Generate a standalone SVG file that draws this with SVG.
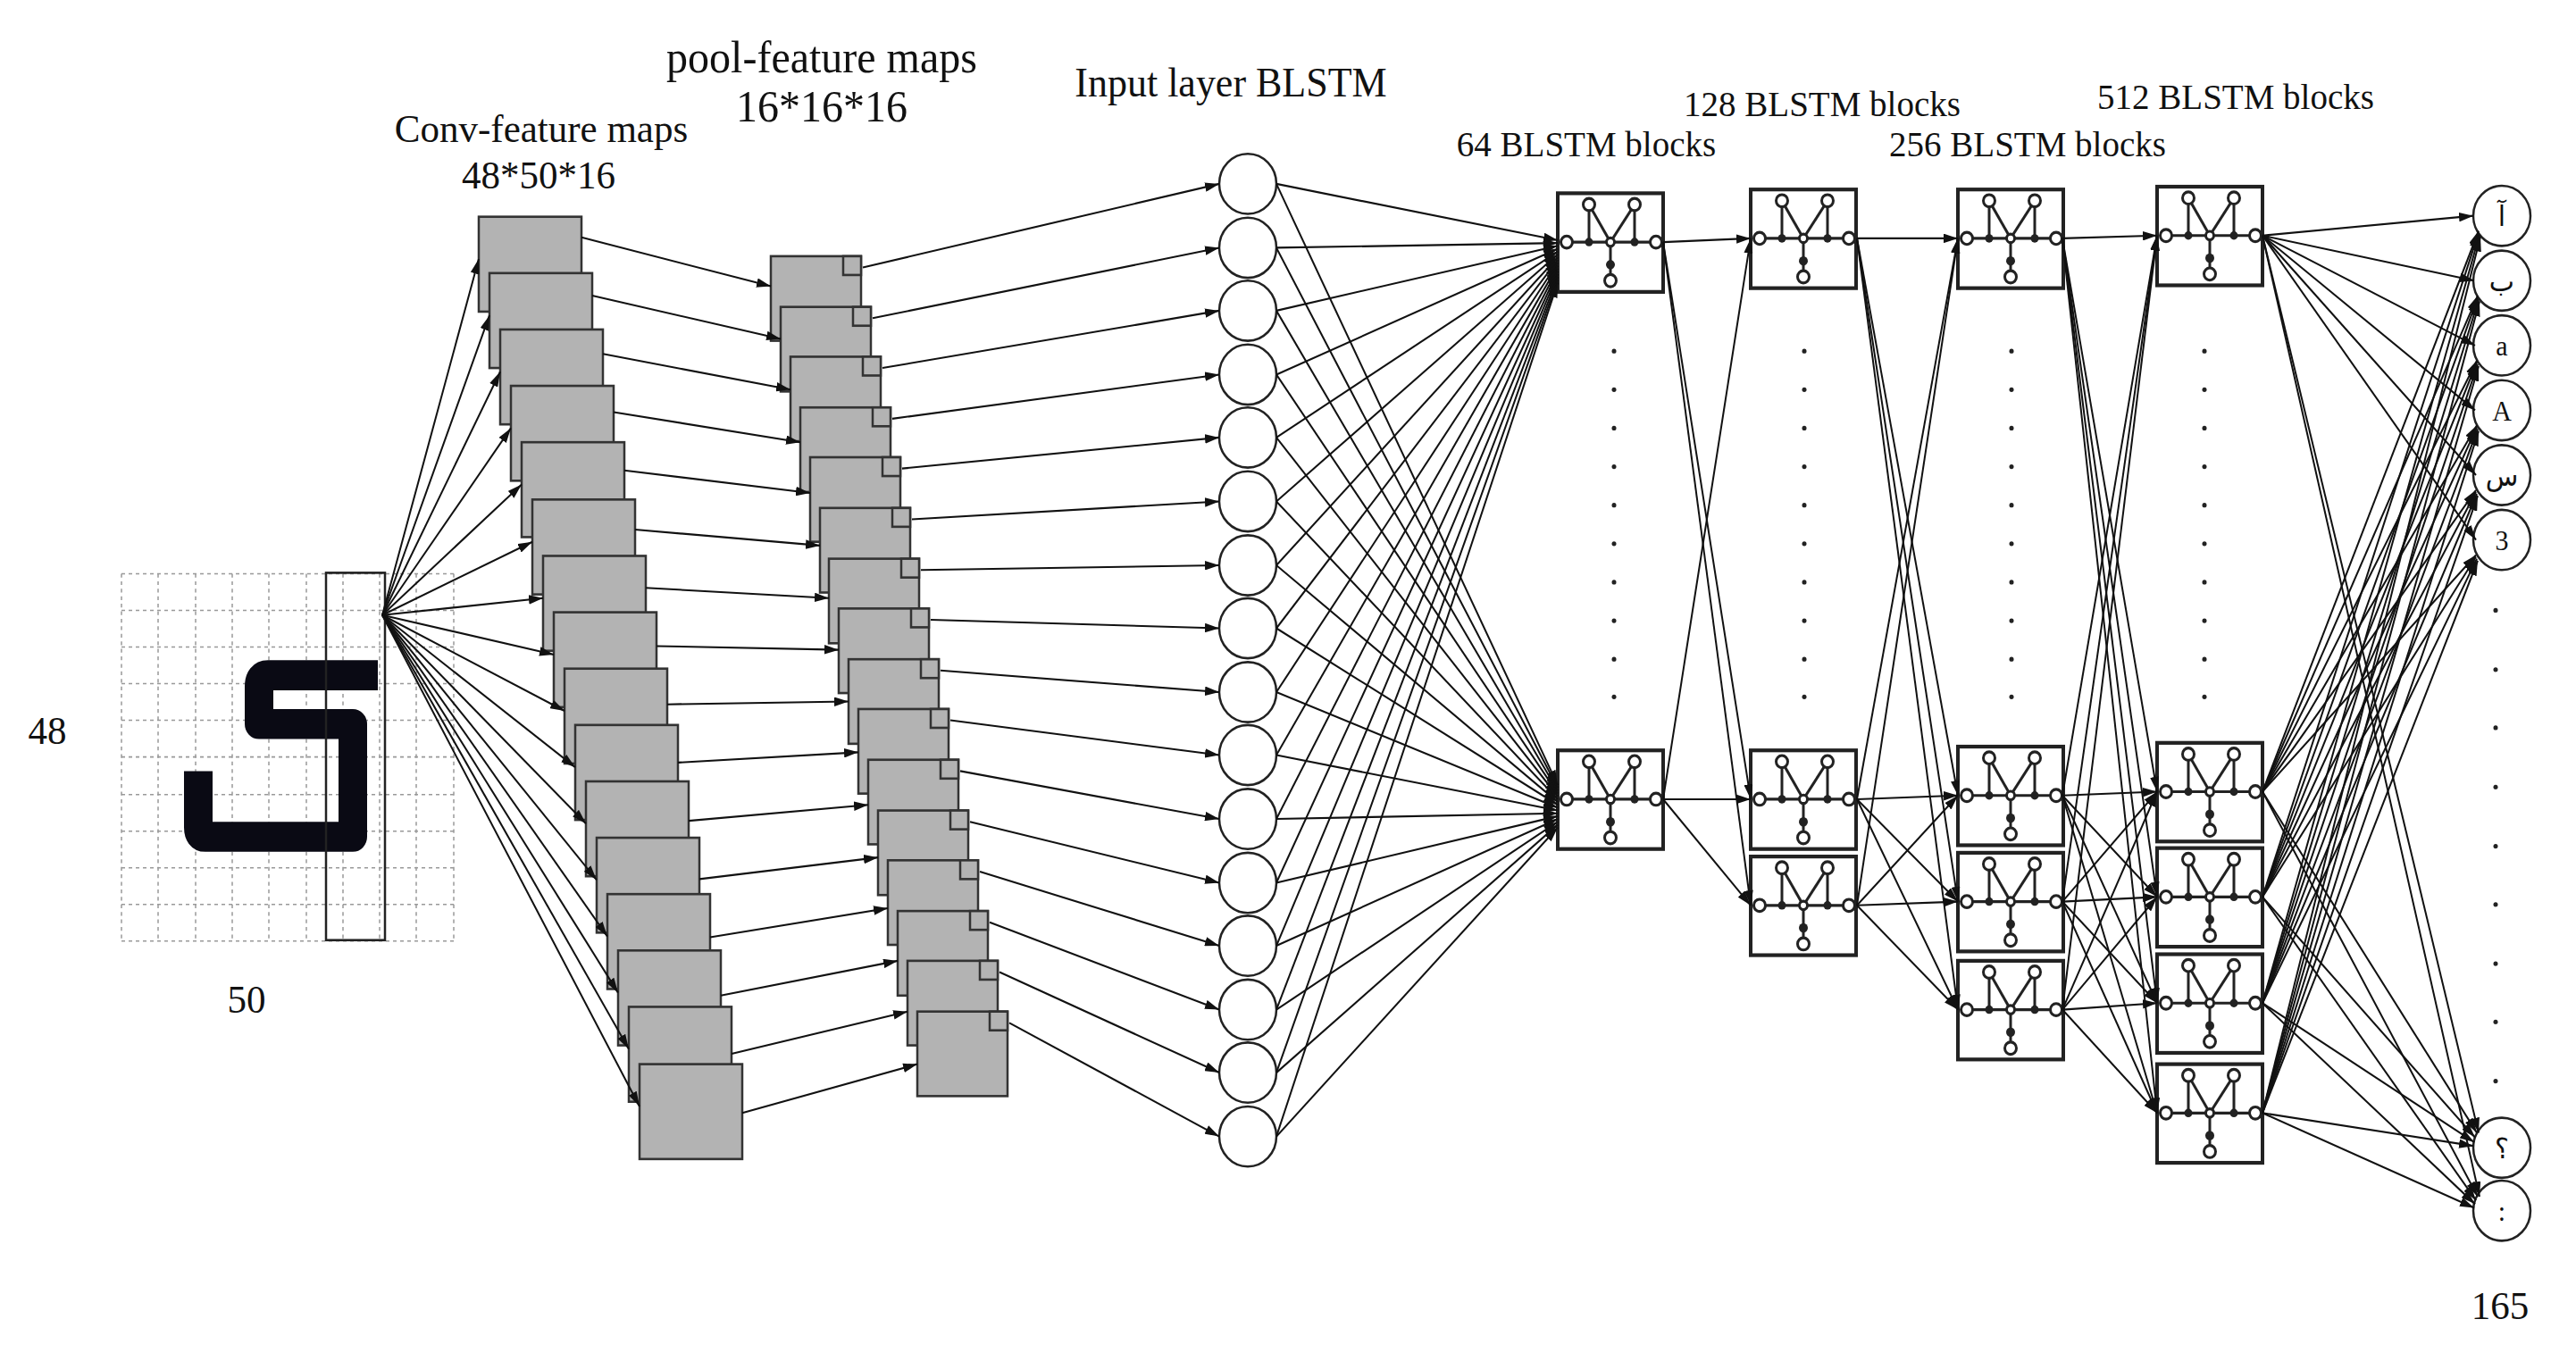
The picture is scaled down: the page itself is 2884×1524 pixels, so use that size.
<svg xmlns="http://www.w3.org/2000/svg" xmlns:xlink="http://www.w3.org/1999/xlink" width="2884" height="1524" viewBox="0 0 2884 1524">
<style>
text{font-family:"Liberation Serif","DejaVu Serif",serif;fill:#111;text-anchor:middle}
.lbl{font-size:43px}
.big{font-size:48px}
.blab{font-size:39px}
.inl{font-size:44px}
.out{font-size:30px;font-family:"Liberation Serif","DejaVu Sans",serif}
.c line{stroke:#111;stroke-width:2;marker-end:url(#ah)}
.conv{fill:#b3b3b3;stroke:#333;stroke-width:2.5}
.pool{fill:#b3b3b3;stroke:#333;stroke-width:2.5}
.nd{fill:#fff;stroke:#222;stroke-width:2.5}
.grid line{stroke:#999;stroke-width:1.5;stroke-dasharray:4,4}
.dot{fill:#222}
</style>
<defs>
<marker id="ah" markerUnits="userSpaceOnUse" markerWidth="16" markerHeight="10" refX="16" refY="5" orient="auto"><path d="M0,0 L16,5 L0,10 z" fill="#111"/></marker>
<g id="blk">
<rect x="0" y="0" width="118" height="105" fill="#fff" stroke="#222" stroke-width="4"/>
<g stroke="#222" stroke-width="3" fill="none">
<line x1="10" y1="52" x2="110" y2="52"/>
<line x1="35" y1="12" x2="35" y2="52"/>
<line x1="86" y1="12" x2="86" y2="52"/>
<line x1="35" y1="12" x2="59" y2="52"/>
<line x1="86" y1="12" x2="59" y2="52"/>
<line x1="59" y1="52" x2="59" y2="93"/>
</g>
<g fill="#222"><circle cx="35" cy="52" r="4.5"/><circle cx="86" cy="52" r="4.5"/><circle cx="59" cy="76" r="5"/></g>
<g fill="#fff" stroke="#222" stroke-width="3">
<circle cx="10" cy="52" r="6.5"/><circle cx="110" cy="52" r="6.5"/><circle cx="35" cy="12" r="6.5"/><circle cx="86" cy="12" r="6.5"/><circle cx="59" cy="93" r="6.5"/><circle cx="59" cy="52" r="4.5"/>
</g>
</g>
</defs>
<rect width="2884" height="1524" fill="#fff"/>
<g transform="matrix(1,0,0,1.052,0,6)">

<g id="input-image">
<g class="grid">
<line x1="136" y1="605" x2="136" y2="996"/><line x1="177" y1="605" x2="177" y2="996"/><line x1="219" y1="605" x2="219" y2="996"/><line x1="260" y1="605" x2="260" y2="996"/><line x1="301" y1="605" x2="301" y2="996"/><line x1="343" y1="605" x2="343" y2="996"/><line x1="384" y1="605" x2="384" y2="996"/><line x1="425" y1="605" x2="425" y2="996"/><line x1="466" y1="605" x2="466" y2="996"/><line x1="508" y1="605" x2="508" y2="996"/>
<line x1="136" y1="605" x2="508" y2="605"/><line x1="136" y1="644" x2="508" y2="644"/><line x1="136" y1="683" x2="508" y2="683"/><line x1="136" y1="722" x2="508" y2="722"/><line x1="136" y1="761" x2="508" y2="761"/><line x1="136" y1="800" x2="508" y2="800"/><line x1="136" y1="840" x2="508" y2="840"/><line x1="136" y1="879" x2="508" y2="879"/><line x1="136" y1="918" x2="508" y2="918"/><line x1="136" y1="957" x2="508" y2="957"/><line x1="136" y1="996" x2="508" y2="996"/>
</g>
<path d="M423,713 L300,713 Q290,713 290,725 L290,765 L395,765 L395,885 L230,885 Q222,885 222,875 L222,815" fill="none" stroke="#0a0a14" stroke-width="32" stroke-linejoin="round"/>
<rect x="365" y="604" width="66" height="391" fill="none" stroke="#222" stroke-width="2.5"/>
<text class="lbl" x="53" y="786">48</text>
<text class="lbl" x="276" y="1072">50</text>
</g>

<g id="labels">
<text class="lbl" x="606" y="145">Conv-feature maps</text>
<text class="lbl" x="603" y="195">48*50*16</text>
<text class="big" x="920" y="71">pool-feature maps</text>
<text class="big" x="920" y="124">16*16*16</text>
<text class="inl" x="1378" y="97">Input layer BLSTM</text>
<text class="blab" x="1776" y="161">64 BLSTM blocks</text>
<text class="blab" x="2040" y="118">128 BLSTM blocks</text>
<text class="blab" x="2270" y="161">256 BLSTM blocks</text>
<text class="blab" x="2503" y="110">512 BLSTM blocks</text>
<text class="lbl" x="2799" y="1398">165</text>
</g>

<g id="conv-maps">
<rect class="conv" x="536" y="225" width="115" height="101"/><rect class="conv" x="548" y="285" width="115" height="101"/><rect class="conv" x="560" y="345" width="115" height="101"/><rect class="conv" x="572" y="405" width="115" height="101"/><rect class="conv" x="584" y="465" width="115" height="101"/><rect class="conv" x="596" y="526" width="115" height="101"/><rect class="conv" x="608" y="586" width="115" height="101"/><rect class="conv" x="620" y="646" width="115" height="101"/><rect class="conv" x="632" y="706" width="115" height="101"/><rect class="conv" x="644" y="766" width="115" height="101"/><rect class="conv" x="656" y="826" width="115" height="101"/><rect class="conv" x="668" y="886" width="115" height="101"/><rect class="conv" x="680" y="946" width="115" height="101"/><rect class="conv" x="692" y="1006" width="115" height="101"/><rect class="conv" x="704" y="1066" width="115" height="101"/><rect class="conv" x="716" y="1127" width="115" height="101"/>
</g>

<g id="pool-maps">
<g><rect class="pool" x="863" y="267" width="101" height="90"/><rect class="pool" x="944" y="267" width="20" height="20"/></g>
<g><rect class="pool" x="874" y="321" width="101" height="90"/><rect class="pool" x="955" y="321" width="20" height="20"/></g>
<g><rect class="pool" x="885" y="374" width="101" height="90"/><rect class="pool" x="966" y="374" width="20" height="20"/></g>
<g><rect class="pool" x="896" y="428" width="101" height="90"/><rect class="pool" x="977" y="428" width="20" height="20"/></g>
<g><rect class="pool" x="907" y="481" width="101" height="90"/><rect class="pool" x="988" y="481" width="20" height="20"/></g>
<g><rect class="pool" x="918" y="535" width="101" height="90"/><rect class="pool" x="999" y="535" width="20" height="20"/></g>
<g><rect class="pool" x="928" y="589" width="101" height="90"/><rect class="pool" x="1009" y="589" width="20" height="20"/></g>
<g><rect class="pool" x="939" y="642" width="101" height="90"/><rect class="pool" x="1020" y="642" width="20" height="20"/></g>
<g><rect class="pool" x="950" y="696" width="101" height="90"/><rect class="pool" x="1031" y="696" width="20" height="20"/></g>
<g><rect class="pool" x="961" y="749" width="101" height="90"/><rect class="pool" x="1042" y="749" width="20" height="20"/></g>
<g><rect class="pool" x="972" y="803" width="101" height="90"/><rect class="pool" x="1053" y="803" width="20" height="20"/></g>
<g><rect class="pool" x="983" y="857" width="101" height="90"/><rect class="pool" x="1064" y="857" width="20" height="20"/></g>
<g><rect class="pool" x="994" y="910" width="101" height="90"/><rect class="pool" x="1075" y="910" width="20" height="20"/></g>
<g><rect class="pool" x="1005" y="964" width="101" height="90"/><rect class="pool" x="1086" y="964" width="20" height="20"/></g>
<g><rect class="pool" x="1016" y="1017" width="101" height="90"/><rect class="pool" x="1097" y="1017" width="20" height="20"/></g>
<g><rect class="pool" x="1027" y="1071" width="101" height="90"/><rect class="pool" x="1108" y="1071" width="20" height="20"/></g>
</g>

<g id="input-layer">
<circle class="nd" cx="1397" cy="190" r="32"/><circle class="nd" cx="1397" cy="258" r="32"/><circle class="nd" cx="1397" cy="325" r="32"/><circle class="nd" cx="1397" cy="393" r="32"/><circle class="nd" cx="1397" cy="460" r="32"/><circle class="nd" cx="1397" cy="528" r="32"/><circle class="nd" cx="1397" cy="596" r="32"/><circle class="nd" cx="1397" cy="663" r="32"/><circle class="nd" cx="1397" cy="731" r="32"/><circle class="nd" cx="1397" cy="798" r="32"/><circle class="nd" cx="1397" cy="866" r="32"/><circle class="nd" cx="1397" cy="934" r="32"/><circle class="nd" cx="1397" cy="1001" r="32"/><circle class="nd" cx="1397" cy="1069" r="32"/><circle class="nd" cx="1397" cy="1136" r="32"/><circle class="nd" cx="1397" cy="1204" r="32"/>
</g>

<g id="blstm-64"><use xlink:href="#blk" href="#blk" x="1744" y="200"/><use xlink:href="#blk" href="#blk" x="1744" y="793"/></g>
<g id="blstm-128"><use xlink:href="#blk" href="#blk" x="1960" y="196"/><use xlink:href="#blk" href="#blk" x="1960" y="793"/><use xlink:href="#blk" href="#blk" x="1960" y="906"/></g>
<g id="blstm-256"><use xlink:href="#blk" href="#blk" x="2192" y="196"/><use xlink:href="#blk" href="#blk" x="2192" y="789"/><use xlink:href="#blk" href="#blk" x="2192" y="902"/><use xlink:href="#blk" href="#blk" x="2192" y="1017"/></g>
<g id="blstm-512"><use xlink:href="#blk" href="#blk" x="2415" y="193"/><use xlink:href="#blk" href="#blk" x="2415" y="785"/><use xlink:href="#blk" href="#blk" x="2415" y="897"/><use xlink:href="#blk" href="#blk" x="2415" y="1010"/><use xlink:href="#blk" href="#blk" x="2415" y="1127"/></g>

<g id="ellipsis-dots">
<g class="dot">
<circle cx="1807" cy="368" r="2.5"/><circle cx="1807" cy="409" r="2.5"/><circle cx="1807" cy="450" r="2.5"/><circle cx="1807" cy="491" r="2.5"/><circle cx="1807" cy="532" r="2.5"/><circle cx="1807" cy="573" r="2.5"/><circle cx="1807" cy="614" r="2.5"/><circle cx="1807" cy="655" r="2.5"/><circle cx="1807" cy="696" r="2.5"/><circle cx="1807" cy="736" r="2.5"/>
<circle cx="2020" cy="368" r="2.5"/><circle cx="2020" cy="409" r="2.5"/><circle cx="2020" cy="450" r="2.5"/><circle cx="2020" cy="491" r="2.5"/><circle cx="2020" cy="532" r="2.5"/><circle cx="2020" cy="573" r="2.5"/><circle cx="2020" cy="614" r="2.5"/><circle cx="2020" cy="655" r="2.5"/><circle cx="2020" cy="696" r="2.5"/><circle cx="2020" cy="736" r="2.5"/>
<circle cx="2252" cy="368" r="2.5"/><circle cx="2252" cy="409" r="2.5"/><circle cx="2252" cy="450" r="2.5"/><circle cx="2252" cy="491" r="2.5"/><circle cx="2252" cy="532" r="2.5"/><circle cx="2252" cy="573" r="2.5"/><circle cx="2252" cy="614" r="2.5"/><circle cx="2252" cy="655" r="2.5"/><circle cx="2252" cy="696" r="2.5"/><circle cx="2252" cy="736" r="2.5"/>
<circle cx="2468" cy="368" r="2.5"/><circle cx="2468" cy="409" r="2.5"/><circle cx="2468" cy="450" r="2.5"/><circle cx="2468" cy="491" r="2.5"/><circle cx="2468" cy="532" r="2.5"/><circle cx="2468" cy="573" r="2.5"/><circle cx="2468" cy="614" r="2.5"/><circle cx="2468" cy="655" r="2.5"/><circle cx="2468" cy="696" r="2.5"/><circle cx="2468" cy="736" r="2.5"/>
<circle cx="2794" cy="644" r="2.5"/><circle cx="2794" cy="707" r="2.5"/><circle cx="2794" cy="769" r="2.5"/><circle cx="2794" cy="832" r="2.5"/><circle cx="2794" cy="895" r="2.5"/><circle cx="2794" cy="957" r="2.5"/><circle cx="2794" cy="1020" r="2.5"/><circle cx="2794" cy="1082" r="2.5"/><circle cx="2794" cy="1145" r="2.5"/>
</g>
</g>

<g id="output-layer">
<g id="o1"><circle class="nd" cx="2801" cy="224" r="32"/><text class="out" x="2801" y="235">آ</text></g>
<g id="o2"><circle class="nd" cx="2801" cy="293" r="32"/><text class="out" x="2801" y="304">ب</text></g>
<g id="o3"><circle class="nd" cx="2801" cy="362" r="32"/><text class="out" x="2801" y="373">a</text></g>
<g id="o4"><circle class="nd" cx="2801" cy="431" r="32"/><text class="out" x="2801" y="442">A</text></g>
<g id="o5"><circle class="nd" cx="2801" cy="500" r="32"/><text class="out" x="2801" y="511">س</text></g>
<g id="o6"><circle class="nd" cx="2801" cy="569" r="32"/><text class="out" x="2801" y="580">3</text></g>
<g id="o7"><circle class="nd" cx="2801" cy="1216" r="32"/><text class="out" x="2801" y="1227">؟</text></g>
<g id="o8"><circle class="nd" cx="2801" cy="1283" r="32"/><text class="out" x="2801" y="1294">:</text></g>
</g>

<g id="connectors" class="c">
<line x1="428" y1="649" x2="536" y2="270"/><line x1="428" y1="649" x2="548" y2="330"/><line x1="428" y1="649" x2="560" y2="390"/><line x1="428" y1="649" x2="572" y2="450"/><line x1="428" y1="649" x2="584" y2="510"/><line x1="428" y1="649" x2="596" y2="571"/><line x1="428" y1="649" x2="608" y2="631"/><line x1="428" y1="649" x2="620" y2="691"/><line x1="428" y1="649" x2="632" y2="751"/><line x1="428" y1="649" x2="644" y2="811"/><line x1="428" y1="649" x2="656" y2="871"/><line x1="428" y1="649" x2="668" y2="931"/><line x1="428" y1="649" x2="680" y2="991"/><line x1="428" y1="649" x2="692" y2="1051"/><line x1="428" y1="649" x2="704" y2="1111"/><line x1="428" y1="649" x2="716" y2="1172"/>

<line x1="651" y1="247" x2="863" y2="299"/><line x1="663" y1="309" x2="874" y2="355"/><line x1="675" y1="371" x2="885" y2="409"/><line x1="687" y1="433" x2="896" y2="465"/><line x1="699" y1="495" x2="907" y2="519"/><line x1="711" y1="558" x2="918" y2="575"/><line x1="723" y1="620" x2="928" y2="631"/><line x1="735" y1="682" x2="939" y2="686"/><line x1="747" y1="744" x2="950" y2="741"/><line x1="759" y1="806" x2="961" y2="795"/><line x1="771" y1="868" x2="972" y2="851"/><line x1="783" y1="930" x2="983" y2="907"/><line x1="795" y1="992" x2="994" y2="961"/><line x1="807" y1="1054" x2="1005" y2="1017"/><line x1="819" y1="1116" x2="1016" y2="1071"/><line x1="831" y1="1179" x2="1027" y2="1127"/>

<line x1="966" y1="279" x2="1365" y2="190"/><line x1="977" y1="333" x2="1365" y2="258"/><line x1="988" y1="386" x2="1365" y2="325"/><line x1="999" y1="440" x2="1365" y2="393"/><line x1="1010" y1="493" x2="1365" y2="460"/><line x1="1021" y1="547" x2="1365" y2="528"/><line x1="1031" y1="601" x2="1365" y2="596"/><line x1="1042" y1="654" x2="1365" y2="663"/><line x1="1053" y1="708" x2="1365" y2="731"/><line x1="1064" y1="761" x2="1365" y2="798"/><line x1="1075" y1="815" x2="1365" y2="866"/><line x1="1086" y1="869" x2="1365" y2="934"/><line x1="1097" y1="922" x2="1365" y2="1001"/><line x1="1108" y1="976" x2="1365" y2="1069"/><line x1="1119" y1="1029" x2="1365" y2="1136"/><line x1="1130" y1="1083" x2="1365" y2="1204"/>

<line x1="1429" y1="190" x2="1744" y2="250"/><line x1="1429" y1="190" x2="1744" y2="830"/>
<line x1="1429" y1="258" x2="1744" y2="253"/><line x1="1429" y1="258" x2="1744" y2="833"/>
<line x1="1429" y1="325" x2="1744" y2="256"/><line x1="1429" y1="325" x2="1744" y2="836"/>
<line x1="1429" y1="393" x2="1744" y2="259"/><line x1="1429" y1="393" x2="1744" y2="839"/>
<line x1="1429" y1="460" x2="1744" y2="262"/><line x1="1429" y1="460" x2="1744" y2="842"/>
<line x1="1429" y1="528" x2="1744" y2="265"/><line x1="1429" y1="528" x2="1744" y2="845"/>
<line x1="1429" y1="596" x2="1744" y2="268"/><line x1="1429" y1="596" x2="1744" y2="848"/>
<line x1="1429" y1="663" x2="1744" y2="271"/><line x1="1429" y1="663" x2="1744" y2="851"/>
<line x1="1429" y1="731" x2="1744" y2="274"/><line x1="1429" y1="731" x2="1744" y2="854"/>
<line x1="1429" y1="798" x2="1744" y2="277"/><line x1="1429" y1="798" x2="1744" y2="857"/>
<line x1="1429" y1="866" x2="1744" y2="280"/><line x1="1429" y1="866" x2="1744" y2="860"/>
<line x1="1429" y1="934" x2="1744" y2="283"/><line x1="1429" y1="934" x2="1744" y2="863"/>
<line x1="1429" y1="1001" x2="1744" y2="286"/><line x1="1429" y1="1001" x2="1744" y2="866"/>
<line x1="1429" y1="1069" x2="1744" y2="289"/><line x1="1429" y1="1069" x2="1744" y2="869"/>
<line x1="1429" y1="1136" x2="1744" y2="292"/><line x1="1429" y1="1136" x2="1744" y2="872"/>
<line x1="1429" y1="1204" x2="1744" y2="295"/><line x1="1429" y1="1204" x2="1744" y2="875"/>

<line x1="1862" y1="252" x2="1960" y2="248"/><line x1="1862" y1="252" x2="1960" y2="845"/><line x1="1862" y1="252" x2="1960" y2="958"/>
<line x1="1862" y1="845" x2="1960" y2="248"/><line x1="1862" y1="845" x2="1960" y2="845"/><line x1="1862" y1="845" x2="1960" y2="958"/>

<line x1="2079" y1="248" x2="2192" y2="248"/><line x1="2079" y1="248" x2="2192" y2="841"/><line x1="2079" y1="248" x2="2192" y2="954"/><line x1="2079" y1="248" x2="2192" y2="1069"/>
<line x1="2079" y1="845" x2="2192" y2="248"/><line x1="2079" y1="845" x2="2192" y2="841"/><line x1="2079" y1="845" x2="2192" y2="954"/><line x1="2079" y1="845" x2="2192" y2="1069"/>
<line x1="2079" y1="958" x2="2192" y2="248"/><line x1="2079" y1="958" x2="2192" y2="841"/><line x1="2079" y1="958" x2="2192" y2="954"/><line x1="2079" y1="958" x2="2192" y2="1069"/>

<line x1="2309" y1="248" x2="2415" y2="245"/><line x1="2309" y1="248" x2="2415" y2="837"/><line x1="2309" y1="248" x2="2415" y2="949"/><line x1="2309" y1="248" x2="2415" y2="1062"/><line x1="2309" y1="248" x2="2415" y2="1179"/>
<line x1="2309" y1="841" x2="2415" y2="245"/><line x1="2309" y1="841" x2="2415" y2="837"/><line x1="2309" y1="841" x2="2415" y2="949"/><line x1="2309" y1="841" x2="2415" y2="1062"/><line x1="2309" y1="841" x2="2415" y2="1179"/>
<line x1="2309" y1="954" x2="2415" y2="245"/><line x1="2309" y1="954" x2="2415" y2="837"/><line x1="2309" y1="954" x2="2415" y2="949"/><line x1="2309" y1="954" x2="2415" y2="1062"/><line x1="2309" y1="954" x2="2415" y2="1179"/>
<line x1="2309" y1="1069" x2="2415" y2="245"/><line x1="2309" y1="1069" x2="2415" y2="837"/><line x1="2309" y1="1069" x2="2415" y2="949"/><line x1="2309" y1="1069" x2="2415" y2="1062"/><line x1="2309" y1="1069" x2="2415" y2="1179"/>

<line x1="2533" y1="245" x2="2769" y2="224"/><line x1="2533" y1="245" x2="2770" y2="293"/><line x1="2533" y1="245" x2="2771" y2="362"/><line x1="2533" y1="245" x2="2771" y2="431"/><line x1="2533" y1="245" x2="2772" y2="500"/><line x1="2533" y1="245" x2="2772" y2="569"/><line x1="2533" y1="245" x2="2775" y2="1200"/><line x1="2533" y1="245" x2="2776" y2="1268"/>
<line x1="2533" y1="837" x2="2775" y2="240"/><line x1="2533" y1="837" x2="2774" y2="309"/><line x1="2533" y1="837" x2="2773" y2="378"/><line x1="2533" y1="837" x2="2773" y2="447"/><line x1="2533" y1="837" x2="2772" y2="516"/><line x1="2533" y1="837" x2="2772" y2="585"/><line x1="2533" y1="837" x2="2773" y2="1200"/><line x1="2533" y1="837" x2="2774" y2="1268"/>
<line x1="2533" y1="949" x2="2775" y2="242"/><line x1="2533" y1="949" x2="2774" y2="311"/><line x1="2533" y1="949" x2="2773" y2="380"/><line x1="2533" y1="949" x2="2773" y2="449"/><line x1="2533" y1="949" x2="2772" y2="518"/><line x1="2533" y1="949" x2="2772" y2="587"/><line x1="2533" y1="949" x2="2771" y2="1205"/><line x1="2533" y1="949" x2="2772" y2="1272"/>
<line x1="2533" y1="1062" x2="2776" y2="244"/><line x1="2533" y1="1062" x2="2775" y2="313"/><line x1="2533" y1="1062" x2="2774" y2="382"/><line x1="2533" y1="1062" x2="2774" y2="451"/><line x1="2533" y1="1062" x2="2773" y2="520"/><line x1="2533" y1="1062" x2="2773" y2="589"/><line x1="2533" y1="1062" x2="2770" y2="1210"/><line x1="2533" y1="1062" x2="2771" y2="1276"/>
<line x1="2533" y1="1179" x2="2777" y2="246"/><line x1="2533" y1="1179" x2="2776" y2="315"/><line x1="2533" y1="1179" x2="2775" y2="384"/><line x1="2533" y1="1179" x2="2775" y2="453"/><line x1="2533" y1="1179" x2="2774" y2="522"/><line x1="2533" y1="1179" x2="2774" y2="591"/><line x1="2533" y1="1179" x2="2769" y2="1214"/><line x1="2533" y1="1179" x2="2770" y2="1280"/>
</g>
</g>
</svg>
